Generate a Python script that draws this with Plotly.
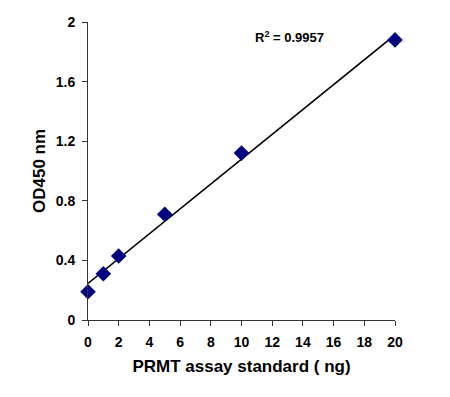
import numpy as np
import plotly.graph_objects as go

x_ng = [0, 1, 2, 5, 10, 20]
od450 = [0.19, 0.31, 0.43, 0.71, 1.12, 1.88]
y_ticks = [0, 0.4, 0.8, 1.2, 1.6, 2]
y_tick_labels = ["0", "0.4", "0.8", "1.2", "1.6", "2"]
x_ticks = list(range(0, 21, 2))
r2_label = "R<sup>2</sup> = 0.9957"

slope, intercept = np.polyfit(x_ng, od450, 1)
fit_x = [0, 20]
fit_y = [intercept + slope * v for v in fit_x]

font = "Liberation Sans, Arial, sans-serif"

fig = go.Figure()
fig.add_trace(go.Scatter(x=fit_x, y=fit_y, mode="lines",
                         line=dict(color="black", width=1.6),
                         showlegend=False, hoverinfo="skip"))
fig.add_trace(go.Scatter(x=x_ng, y=od450, mode="markers",
                         marker=dict(symbol="diamond", size=12, color="#000080"),
                         cliponaxis=False, showlegend=False))

fig.add_annotation(x=10.75, y=1.9, xref="x", yref="y", text=r2_label,
                   showarrow=False, xanchor="left", yanchor="middle",
                   font=dict(family=font, size=13, color="black", weight="bold"))

# the page body adds an 8px offset, so the figure is shrunk to fit the window
fig.update_layout(
    width=442, height=389,
    margin=dict(l=80, r=55, t=14, b=77, autoexpand=False),
    paper_bgcolor="white", plot_bgcolor="white",
    font=dict(family=font, color="black"),
)
fig.update_xaxes(range=[0, 20], tickvals=x_ticks, showgrid=False, zeroline=False,
                 showline=True, linecolor="#333", linewidth=1,
                 ticks="outside", ticklen=5, tickcolor="#333",
                 ticklabelstandoff=4, automargin=False,
                 tickfont=dict(family=font, size=14, weight="bold"),
                 title=dict(text="PRMT assay standard ( ng)", standoff=11,
                            font=dict(family=font, size=17, weight="bold")))
fig.update_yaxes(range=[0, 2], tickvals=y_ticks, ticktext=y_tick_labels,
                 showgrid=False, zeroline=False,
                 showline=True, linecolor="#333", linewidth=1,
                 ticks="outside", ticklen=5, tickcolor="#333",
                 ticklabelstandoff=4, automargin=False,
                 tickfont=dict(family=font, size=14, weight="bold"),
                 title=dict(text="OD450 nm", standoff=5,
                            font=dict(family=font, size=17, weight="bold")))

fig.write_html("out.html")
